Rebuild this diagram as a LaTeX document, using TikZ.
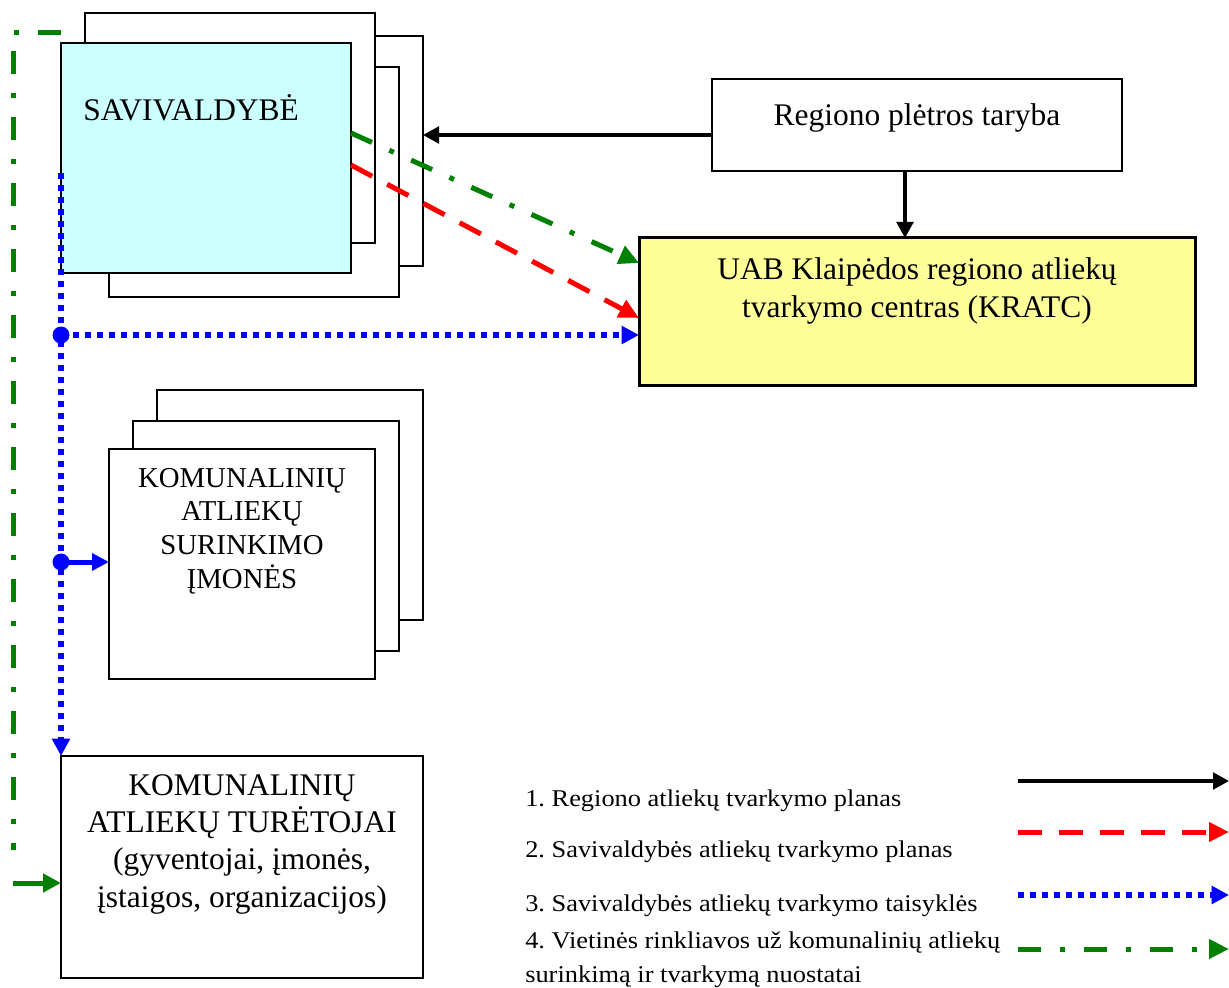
\documentclass[tikz,border=0pt]{standalone}
\usepackage{fontspec}
\setmainfont{Liberation Serif}
\newfontfamily\legendfont[FakeStretch=1.1]{Liberation Serif}
\usetikzlibrary{arrows.meta,calc}
\definecolor{savcyan}{HTML}{CCFFFF}
\definecolor{uabyellow}{HTML}{FFFF99}
\definecolor{dgreen}{HTML}{008000}
\definecolor{bblue}{HTML}{0000FF}
\definecolor{rred}{HTML}{FF0000}
\frenchspacing
\tikzset{
  box/.style={draw=black, line width=1.5pt, fill=white, rectangle, inner sep=0pt, outer sep=0pt, anchor=north west},
  savbox/.style={box, minimum width=217.5pt, minimum height=172.5pt},
  kombox/.style={box, minimum width=199.5pt, minimum height=172.5pt},
  bigtext/.style={inner sep=0pt, font=\fontsize{23.6pt}{28pt}\selectfont},
  komtext/.style={inner sep=0pt, font=\fontsize{21.6pt}{25.3pt}\selectfont},
  legtext/.style={inner sep=0pt, anchor=base west, font=\legendfont\fontsize{18pt}{25.5pt}\selectfont},
  blackarrow/.style={draw=black, line width=2.4pt, -{Triangle[length=12pt,width=12.5pt]}},
  redarrow/.style={draw=rred, line width=3.75pt, dash pattern=on 18pt off 12.75pt, -{Triangle[length=15pt,width=14pt]}},
  greenline/.style={draw=dgreen, line width=3.75pt, dash pattern=on 17.25pt off 14.25pt on 3.75pt off 14.25pt},
  greenarrow/.style={greenline, -{Triangle[length=15pt,width=14pt]}},
  greensolid/.style={draw=dgreen, line width=3.75pt, -{Triangle[length=13.5pt,width=13.5pt]}},
  bluearrow/.style={draw=bblue, line width=4.5pt, dash pattern=on 4.5pt off 4.5pt, -{Triangle[length=13pt,width=13pt]}},
  bluesolid/.style={draw=bblue, line width=3.75pt, -{Triangle[length=12.75pt,width=12.5pt]}},
  bluedot/.style={circle, fill=bblue, inner sep=0pt, minimum size=12.75pt},
}
\begin{document}
\begin{tikzpicture}[x=0.75pt,y=-0.75pt]
\useasboundingbox (0,0) rectangle (1229,988);

% SAVIVALDYBE stack
\node[savbox] (sav2) at (133,36) {};
\node[savbox] (sav3) at (109,67) {};
\node[savbox] (sav1) at (85,13) {};
\node[savbox, fill=savcyan] (savF) at (61,43) {};
\node[bigtext, anchor=base west] (savT) at (83,121) {SAVIVALDYBĖ};

% KOMUNALINIU ATLIEKU SURINKIMO IMONES stack
\node[kombox] (kom3) at (157,390) {};
\node[kombox] (kom2) at (133,421) {};
\node[kombox] (komF) at (109,449) {};
\node[komtext, anchor=base] (komT) at (242,487) {\begin{tabular}[t]{@{}c@{}}KOMUNALINIŲ\\ATLIEKŲ\\SURINKIMO\\ĮMONĖS\end{tabular}};

% TURETOJAI
\node[box, minimum width=271.5pt, minimum height=166.5pt] (tur) at (61,756) {};
\node[bigtext, anchor=base] (turT) at (242,795) {\begin{tabular}[t]{@{}c@{}}KOMUNALINIŲ\\ATLIEKŲ TURĖTOJAI\\(gyventojai, įmonės,\\įstaigos, organizacijos)\end{tabular}};

% Regiono pletros taryba
\node[box, line width=1.9pt, minimum width=307.5pt, minimum height=69pt] (reg) at (712,79) {};
\node[bigtext, anchor=base] (regT) at (917,126) {Regiono plėtros taryba};

% UAB KRATC
\node[box, fill=uabyellow, line width=2.25pt, minimum width=417pt, minimum height=110.25pt] (uab) at (639,238) {};
\node[bigtext, anchor=base] (uabT) at (917,280) {\begin{tabular}[t]{@{}c@{}}UAB Klaipėdos regiono atliekų\\tvarkymo centras (KRATC)\end{tabular}};

% connectors
\draw[blackarrow] (reg.west |- 0,135) -- (sav2.east |- 0,135);
\draw[blackarrow] (reg.south -| 905,0) -- (uab.north -| 905,0);
\draw[greenarrow] (savF.east |- 0,133) -- (uab.west |- 0,263);
\draw[redarrow] (savF.east |- 0,165) -- (uab.west |- 0,318);

\coordinate (bstart) at (61,173);
\coordinate (bj1) at (61,335);
\coordinate (bj2) at (61,562);
\draw[bluearrow] (bstart) -- (tur.north west);
\draw[bluearrow] (bj1) -- (uab.west |- bj1);
\draw[bluesolid] (bj2) -- (komF.west |- bj2);
\node[bluedot] (d1) at (bj1) {};
\node[bluedot] (d2) at (bj2) {};

\coordinate (g0) at (61,33);
\coordinate (g1) at (13,33);
\coordinate (g2) at (13,850);
\coordinate (g3) at (13,883);
\draw[greenline] (g0) -- (g1) -- (g2);
\draw[greensolid] (g3) -- (tur.west |- g3);

% legend
\node[legtext] (leg1) at (525,806) {1. Regiono atliekų tvarkymo planas};
\node[legtext] (leg2) at (525,857) {2. Savivaldybės atliekų tvarkymo planas};
\node[legtext] (leg3) at (525,911) {3. Savivaldybės atliekų tvarkymo taisyklės};
\node[legtext] (leg4) at (525,948) {\begin{tabular}[t]{@{}l@{}}4. Vietinės rinkliavos už komunalinių atliekų\\surinkimą ir tvarkymą nuostatai\end{tabular}};

\coordinate (la1) at (1018,781); \coordinate (lb1) at (1229,781);
\coordinate (la2) at (1018,832); \coordinate (lb2) at (1229,832);
\coordinate (la3) at (1018,895); \coordinate (lb3) at (1229,895);
\coordinate (la4) at (1018,949); \coordinate (lb4) at (1229,949);
\draw[blackarrow] (la1) -- (lb1);
\draw[redarrow] (la2) -- (lb2);
\draw[bluearrow] (la3) -- (lb3);
\draw[greenarrow] (la4) -- (lb4);
\end{tikzpicture}
\end{document}
